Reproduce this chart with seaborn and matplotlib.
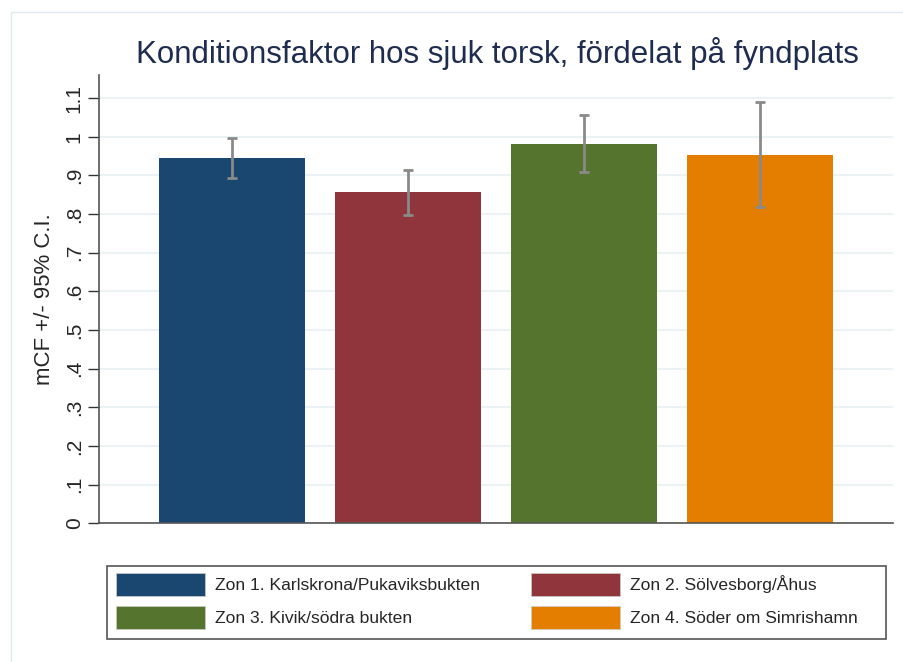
import numpy as np
import pandas as pd
import seaborn as sns
import matplotlib.pyplot as plt
from matplotlib.patches import Patch, Rectangle

# Data
zones = ["Zon 1. Karlskrona/Pukaviksbukten", "Zon 2. Sölvesborg/Åhus",
         "Zon 3. Kivik/södra bukten", "Zon 4. Söder om Simrishamn"]
mean_cf = [0.946, 0.857, 0.982, 0.953]
ci_low = [0.894, 0.798, 0.909, 0.819]
ci_high = [0.998, 0.915, 1.057, 1.091]
yticks = [0, 0.1, 0.2, 0.3, 0.4, 0.5, 0.6, 0.7, 0.8, 0.9, 1.0, 1.1]
ytick_labels = ["0", ".1", ".2", ".3", ".4", ".5", ".6", ".7", ".8", ".9", "1", "1.1"]
colors = ["#1a476f", "#90353b", "#55752f", "#e37e00"]

df = pd.DataFrame({"zone": zones, "mcf": mean_cf})

sns.set_theme(style="white")
plt.rcParams['font.family'] = ['Liberation Sans', 'DejaVu Sans']

W, H = 904, 662
fig = plt.figure(figsize=(W / 100, H / 100), dpi=100)
ax = fig.add_axes([99 / W, (H - 523.3) / H, 794 / W, 448.3 / H])

# horizontal grid
for t in yticks:
    ax.axhline(t, color="#eaf2f3", lw=1.5, zorder=0)

sns.barplot(data=df, x="zone", y="mcf", hue="zone", palette=colors,
            saturation=1, width=0.83, errorbar=None, legend=False, ax=ax,
            zorder=2, linewidth=0)

x = np.arange(len(zones))
m = np.array(mean_cf)
err = [m - np.array(ci_low), np.array(ci_high) - m]
ax.errorbar(x, m, yerr=err, fmt="none", ecolor="#8a8a8a", elinewidth=2,
            capsize=3.8, capthick=2, zorder=3)

ax.set_xlim(-0.756, 3.756)
ax.set_ylim(0, 1.16)
ax.set_yticks(yticks)
ax.set_yticklabels(ytick_labels, rotation=90, va="center", fontsize=15)
ax.set_xticks([])
ax.set_xlabel("")
ax.set_ylabel("mCF +/- 95% C.I.", fontsize=16, labelpad=7)
ax.tick_params(axis="y", left=True, length=8, width=1, color="#333333", pad=3)

for s in ["top", "right"]:
    ax.spines[s].set_visible(False)
for s in ["left", "bottom"]:
    ax.spines[s].set_color("#555555")
    ax.spines[s].set_linewidth(1.2)

fig.text(497.5 / W, (H - 53) / H, "Konditionsfaktor hos sjuk torsk, fördelat på fyndplats",
         ha="center", va="center", fontsize=22.5, color="#1e2d4f")

# outer frame
fig.patches.append(Rectangle((11 / W, -0.1), 2, (H - 12) / H + 0.1,
                             transform=fig.transFigure, fill=False,
                             edgecolor="#dde9ec", lw=1))

# legend frame
fig.patches.append(Rectangle((107 / W, (H - 639) / H), 779 / W, 73 / H,
                             transform=fig.transFigure, fill=False,
                             edgecolor="#555555", lw=1.2, zorder=5))

handles = [Patch(facecolor=c, edgecolor="#cccccc", lw=0.5) for c in colors]
order = [0, 2, 1, 3]
fs = 12.6
px = fs * 100 / 72
hh = (23 / px - 0.245) / 0.65
leg = fig.legend([handles[i] for i in order], [zones[i] for i in order],
                 ncol=2, loc="upper left",
                 bbox_to_anchor=(116 / W, (H - 573) / H),
                 frameon=False, fontsize=fs,
                 handlelength=89 / px, handleheight=hh,
                 handletextpad=10 / px, columnspacing=51 / px,
                 borderpad=0, labelspacing=9.5 / px, borderaxespad=0)

fig.savefig("out.png", dpi=100)
